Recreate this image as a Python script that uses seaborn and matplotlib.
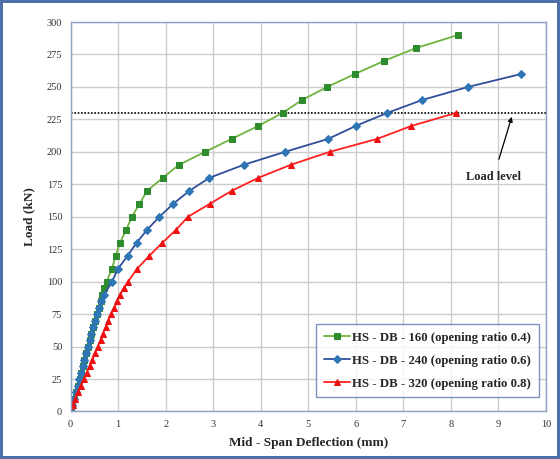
import matplotlib
matplotlib.use("Agg")
import matplotlib.pyplot as plt
import seaborn as sns
import pandas as pd

# Load (kN) and mid-span deflection (mm) for each beam
load_160 = [0, 5, 10, 15, 20, 25, 30, 35, 40, 45, 50, 55, 60, 65, 70, 75, 80, 85, 90, 95,
            100, 110, 120, 130, 140, 150, 160, 170, 180, 190, 200, 210, 220, 230, 240,
            250, 260, 270, 280, 290]
defl_160 = [0, 0.04, 0.08, 0.12, 0.15, 0.19, 0.22, 0.26, 0.29, 0.33, 0.36, 0.40, 0.44, 0.47,
            0.51, 0.55, 0.59, 0.63, 0.67, 0.71, 0.76, 0.87, 0.95, 1.04, 1.17, 1.29, 1.45,
            1.61, 1.94, 2.28, 2.83, 3.39, 3.95, 4.46, 4.87, 5.40, 5.98, 6.59, 7.27, 8.15]

load_240 = [0, 5, 10, 15, 20, 25, 30, 35, 40, 45, 50, 55, 60, 65, 70, 75, 80, 85, 90,
            100, 110, 120, 130, 140, 150, 160, 170, 180, 190, 200, 210, 220, 230, 240,
            250, 260]
defl_240 = [0, 0.04, 0.07, 0.11, 0.15, 0.18, 0.22, 0.26, 0.29, 0.33, 0.37, 0.40, 0.44, 0.47,
            0.51, 0.56, 0.60, 0.65, 0.71, 0.87, 1.00, 1.20, 1.39, 1.61, 1.87, 2.16, 2.50,
            2.92, 3.64, 4.51, 5.42, 6.00, 6.66, 7.40, 8.36, 9.48]

load_320 = [0, 5, 10, 15, 20, 25, 30, 35, 40, 45, 50, 55, 60, 65, 70, 75, 80, 85, 90, 95,
            100, 110, 120, 130, 140, 150, 160, 170, 180, 190, 200, 210, 220, 230]
defl_320 = [0, 0.05, 0.10, 0.16, 0.22, 0.28, 0.34, 0.40, 0.46, 0.51, 0.57, 0.63, 0.68, 0.74,
            0.79, 0.85, 0.92, 0.98, 1.04, 1.12, 1.21, 1.40, 1.66, 1.93, 2.22, 2.47, 2.93,
            3.39, 3.95, 4.63, 5.45, 6.45, 7.17, 8.11]

labels = ["HS - DB - 160 (opening ratio 0.4)",
          "HS - DB - 240 (opening ratio 0.6)",
          "HS - DB - 320 (opening ratio 0.8)"]
load_level = 230

x_ticks = list(range(0, 11))
y_ticks = list(range(0, 301, 25))

sns.set_theme(style="white")
plt.rcParams["font.family"] = ["Liberation Serif", "DejaVu Serif"]

fig = plt.figure(figsize=(5.6, 4.59), dpi=100)
fig.patch.set_facecolor("white")
fig.patch.set_edgecolor("#4f6fa8")
fig.patch.set_linewidth(3)
ax = fig.add_axes([0.126, 0.1035, 0.849, 0.8485])

series = [
    (defl_160, load_160, labels[0], "#6fb33f", "#2e8b2e", "s", 4.5),
    (defl_240, load_240, labels[1], "#2f4f9a", "#2e75b6", "D", 4.0),
    (defl_320, load_320, labels[2], "#ff2020", "#ee1111", "^", 4.5),
]
for xs, ys, lab, lc, mc, mk, ms in series:
    df = pd.DataFrame({"defl": xs, "load": ys})
    sns.lineplot(data=df, x="defl", y="load", ax=ax, color=lc, linewidth=1.3,
                 marker=mk, markersize=ms, markerfacecolor=mc, markeredgecolor=mc,
                 label=lab, sort=False, estimator=None)

ax.axhline(load_level, color="black", linestyle=(0, (1, 1)), linewidth=1.2, zorder=1)
ax.annotate("Load level", xy=(9.28, 227), xytext=(8.9, 181), ha="center", va="center",
            fontsize=9, fontweight="bold",
            arrowprops=dict(arrowstyle="-|>", color="black", lw=0.9, mutation_scale=7,
                            shrinkA=6, shrinkB=0))

ax.set_xlim(0, 10)
ax.set_ylim(0, 300)
ax.set_xticks(x_ticks)
ax.set_yticks(y_ticks)
ax.grid(True, color="#cccccc", linewidth=1.0)
ax.set_axisbelow(True)
for s in ax.spines.values():
    s.set_color("#8fa2c4")
    s.set_linewidth(1.0)
ax.tick_params(axis="both", labelsize=7.5, colors="#333333", length=0, pad=6)

ax.set_xlabel("Mid - Span Deflection (mm)", fontsize=9.5, fontweight="bold", labelpad=6)
ax.set_ylabel("Load (kN)", fontsize=9.5, fontweight="bold", labelpad=8)

leg = ax.legend(loc="lower right", bbox_to_anchor=(0.99, 0.03),
                prop={"weight": "bold", "size": 9.2}, frameon=True, fancybox=False,
                handlelength=2.0, handletextpad=0.2, borderpad=0.6, labelspacing=0.85,
                borderaxespad=0.2)
leg.get_frame().set_edgecolor("#5a7bb0")
leg.get_frame().set_linewidth(1.0)

fig.savefig("out.png", dpi=100, facecolor=fig.get_facecolor(), edgecolor=fig.get_edgecolor())
